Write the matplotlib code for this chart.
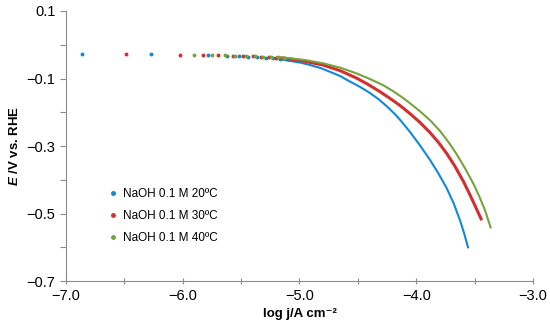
import numpy as np
import matplotlib
matplotlib.use("Agg")
from matplotlib import pyplot as plt
from matplotlib.ticker import FixedLocator, FuncFormatter

plt.rcParams['font.family'] = ['Liberation Sans', 'DejaVu Sans']
plt.rcParams['mathtext.fontset'] = 'custom'
plt.rcParams['mathtext.it'] = 'Liberation Sans:bold:italic'
plt.rcParams['mathtext.rm'] = 'Liberation Sans:bold'

# ****************** data (log j, E)
labels = ['NaOH 0.1 M 20ºC', 'NaOH 0.1 M 30ºC', 'NaOH 0.1 M 40ºC']
colors = ['#1088db', '#d22f2f', '#78a23e']
widths = [1.5, 2.2, 1.5]

logj_20 = [-6.86, -6.27, -5.78, -5.62, -5.52, -5.44, -5.36, -5.29, -5.23, -5.17,
           -5.081, -4.99, -4.910, -4.82, -4.739, -4.65, -4.568, -4.48, -4.396, -4.32,
           -4.253, -4.19, -4.139, -4.054, -3.97, -3.882, -3.81, -3.739, -3.68,
           -3.625, -3.59, -3.554]
E_20 = [-0.027, -0.028, -0.030, -0.032, -0.033, -0.035, -0.036, -0.038, -0.040, -0.043,
        -0.048, -0.053, -0.060, -0.069, -0.080, -0.093, -0.109, -0.125, -0.143, -0.162,
        -0.182, -0.203, -0.222, -0.258, -0.297, -0.341, -0.381, -0.425, -0.469,
        -0.520, -0.558, -0.603]

logj_30 = [-6.49, -6.02, -5.83, -5.70, -5.57, -5.48, -5.40, -5.33, -5.26, -5.20, -5.14,
           -5.081, -4.94, -4.799, -4.65, -4.510, -4.41, -4.311, -4.22, -4.139, -4.05,
           -3.968, -3.882, -3.81, -3.739, -3.67, -3.597, -3.55, -3.497, -3.439]
E_30 = [-0.028, -0.029, -0.030, -0.031, -0.032, -0.033, -0.034, -0.035, -0.036, -0.038, -0.040,
        -0.042, -0.050, -0.060, -0.077, -0.099, -0.118, -0.139, -0.160, -0.180, -0.205,
        -0.230, -0.260, -0.289, -0.322, -0.359, -0.404, -0.437, -0.476, -0.520]

logj_40 = [-5.90, -5.75, -5.64, -5.55, -5.46, -5.38, -5.31, -5.24, -5.18, -5.13,
           -5.081, -4.94, -4.799, -4.65, -4.510, -4.40, -4.282, -4.20, -4.111, -4.04,
           -3.968, -3.88, -3.797, -3.72, -3.654, -3.58, -3.511, -3.46, -3.411, -3.360]
E_40 = [-0.029, -0.030, -0.031, -0.032, -0.033, -0.034, -0.035, -0.036, -0.037, -0.038,
        -0.040, -0.046, -0.055, -0.068, -0.085, -0.101, -0.120, -0.137, -0.158, -0.177,
        -0.197, -0.224, -0.255, -0.290, -0.324, -0.367, -0.411, -0.449, -0.490, -0.544]

series = [(logj_20, E_20), (logj_30, E_30), (logj_40, E_40)]

# *****************************
fig = plt.figure(figsize=(5.5, 3.33), dpi=100)
ax = fig.add_axes([0.12, 0.156, 0.849, 0.811])

for (xs, ys), c, lw, lab in zip(series, colors, widths, labels):
    xs = np.array(xs)
    ys = np.array(ys)
    sparse = xs < -5.1
    ax.plot(xs[sparse], ys[sparse], linestyle='none', marker='o', markersize=1.8,
            color=c, label=lab)
    dense = xs >= -5.2
    ax.plot(xs[dense], ys[dense], color=c, linewidth=lw,
            solid_capstyle='butt', solid_joinstyle='round')

ax.set_xlim(-7.0, -3.0)
ax.set_ylim(-0.7, 0.1)

ax.xaxis.set_major_locator(FixedLocator(np.arange(-7.0, -2.99, 0.5)))
ax.xaxis.set_major_formatter(FuncFormatter(
    lambda v, p: ('%.1f' % v).replace('-', '\u2212') if abs(v - round(v)) < 1e-6 else ''))
ax.yaxis.set_major_locator(FixedLocator(np.arange(-0.7, 0.101, 0.1)))
ax.yaxis.set_major_formatter(FuncFormatter(
    lambda v, p: ('%.1f' % v).replace('-', '\u2212') if round(v * 10) % 2 != 0 else ''))

for s in ['top', 'right']:
    ax.spines[s].set_visible(False)
for s in ['left', 'bottom']:
    ax.spines[s].set_color('#8c8c8c')
    ax.spines[s].set_linewidth(0.8)
ax.tick_params(axis='both', colors='#8c8c8c', labelcolor='black', labelsize=10.5, length=4, width=0.8)
ax.tick_params(axis='x', direction='inout', pad=4)

ax.set_xlabel('log j/A cm\u207b\u00b2', fontsize=9.5, fontweight='bold', labelpad=3)
ax.set_ylabel('$E$ /V vs. RHE', fontsize=9.5, fontweight='bold', labelpad=4)

ax.legend(loc='upper left', bbox_to_anchor=(0.07, 0.385), frameon=False, fontsize=8.5,
          handlelength=0.6, handletextpad=0.6, markerscale=1.4, labelspacing=0.85)

fig.savefig('out.png', dpi=100)
